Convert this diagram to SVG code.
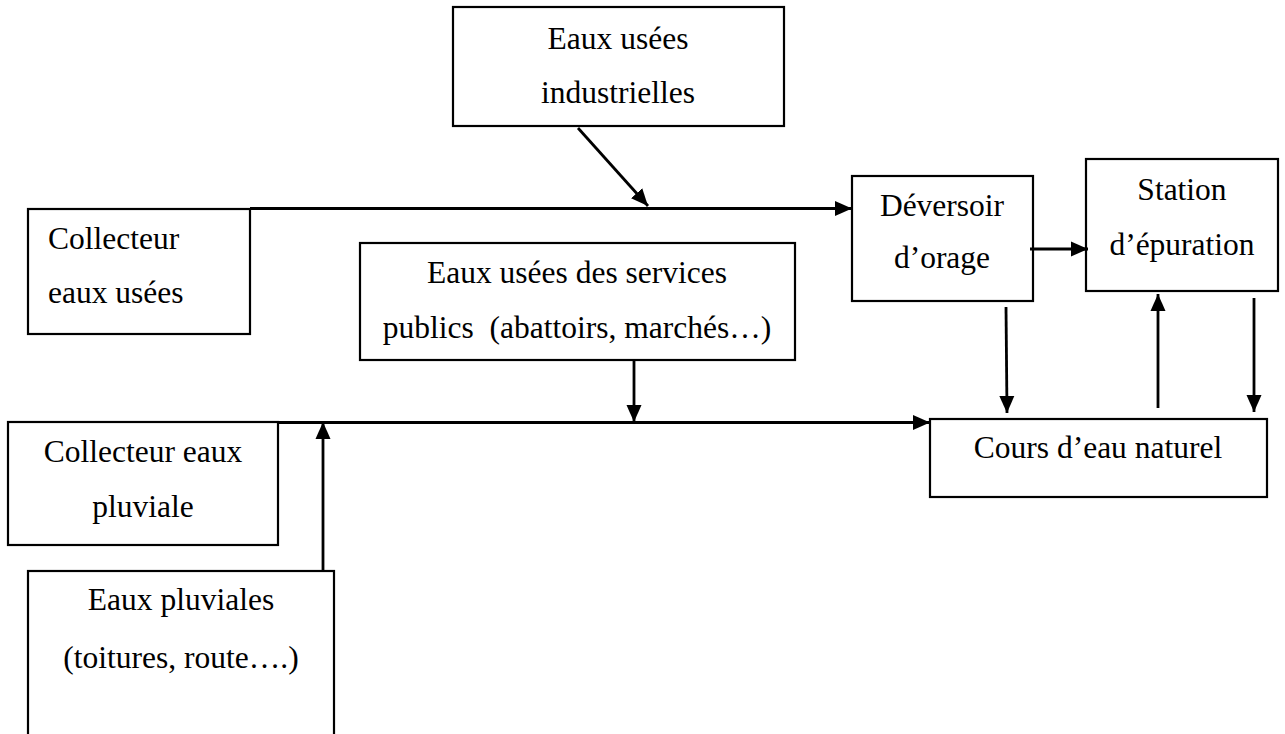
<svg xmlns="http://www.w3.org/2000/svg" width="1285" height="734" viewBox="0 0 1285 734">
<style>
.box{fill:#fff;stroke:#000;stroke-width:2.2}
.t{font-family:'Liberation Serif','DejaVu Serif',serif;font-size:31.5px;fill:#000}
.c{text-anchor:middle}
.ln{stroke:#000;stroke-width:2.8;fill:none}
</style>
<defs>
<marker id="ah" markerUnits="userSpaceOnUse" markerWidth="18" markerHeight="16" refX="17" refY="8" orient="auto">
<path d="M0,0.5 L17,8 L0,15.5 Z" fill="#000"/>
</marker>
</defs>
<g id="n-industrielles">
<rect class="box" x="453" y="7" width="331" height="119"/>
<text class="t c" x="618" y="49">Eaux usées</text>
<text class="t c" x="618" y="103">industrielles</text>
</g>
<g id="n-collecteur-usees">
<rect class="box" x="28" y="209" width="222" height="125"/>
<text class="t" x="48" y="249">Collecteur</text>
<text class="t" x="48" y="303">eaux usées</text>
</g>
<g id="n-deversoir">
<rect class="box" x="852" y="176" width="181" height="125"/>
<text class="t c" x="942" y="216">Déversoir</text>
<text class="t c" x="942" y="268">d’orage</text>
</g>
<g id="n-station">
<rect class="box" x="1086" y="159" width="192" height="132"/>
<text class="t c" x="1182" y="200">Station</text>
<text class="t c" x="1182" y="255">d’épuration</text>
</g>
<g id="n-services">
<rect class="box" x="360" y="243" width="435" height="117"/>
<text class="t c" x="577" y="283">Eaux usées des services</text>
<text class="t c" x="577" y="338" xml:space="preserve">publics  (abattoirs, marchés…)</text>
</g>
<g id="n-cours">
<rect class="box" x="930" y="419" width="337" height="78"/>
<text class="t c" x="1098" y="458">Cours d’eau naturel</text>
</g>
<g id="n-collecteur-pluviale">
<rect class="box" x="8" y="422" width="270" height="123"/>
<text class="t c" x="143" y="462">Collecteur eaux</text>
<text class="t c" x="143" y="517">pluviale</text>
</g>
<g id="n-pluviales">
<rect class="box" x="28" y="571" width="306" height="170"/>
<text class="t c" x="181" y="610">Eaux pluviales</text>
<text class="t c" x="181" y="668">(toitures, route….)</text>
</g>
<g id="connectors">
<line class="ln" x1="250" y1="208.5" x2="852" y2="208.5" marker-end="url(#ah)"/>
<line class="ln" x1="578" y1="128" x2="648" y2="206" marker-end="url(#ah)"/>
<line class="ln" x1="1030" y1="249" x2="1088" y2="249" marker-end="url(#ah)"/>
<line class="ln" x1="278" y1="422.5" x2="930" y2="422.5" marker-end="url(#ah)"/>
<line class="ln" x1="634" y1="360" x2="634" y2="422" marker-end="url(#ah)"/>
<line class="ln" x1="323" y1="571" x2="323" y2="422" marker-end="url(#ah)"/>
<line class="ln" x1="1006" y1="307" x2="1007" y2="413" marker-end="url(#ah)"/>
<line class="ln" x1="1158" y1="408" x2="1158" y2="294" marker-end="url(#ah)"/>
<line class="ln" x1="1254" y1="298" x2="1254" y2="412" marker-end="url(#ah)"/>
</g>
</svg>
